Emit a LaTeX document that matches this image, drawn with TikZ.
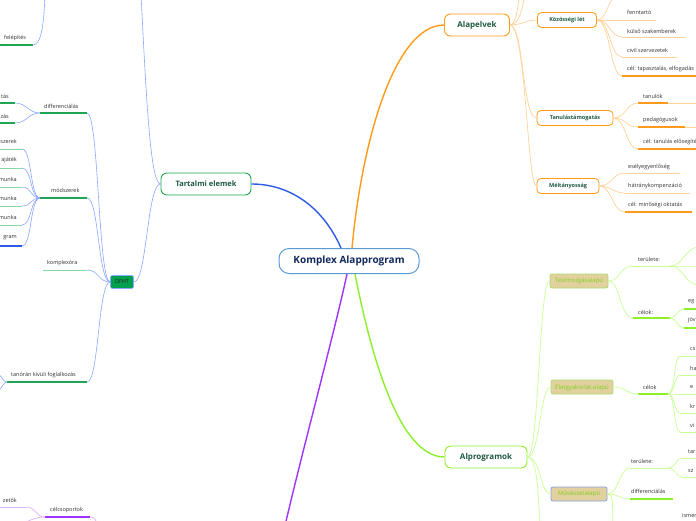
\documentclass[tikz,border=0pt]{standalone}
\usepackage{fontspec}
\setmainfont{Open Sans}
\definecolor{cblue}{HTML}{2F5BEA}
\definecolor{lblue}{HTML}{8AA8FF}
\definecolor{cgreen}{HTML}{1FA653}
\definecolor{lgreen}{HTML}{85D9A3}
\definecolor{corange}{HTML}{FF9A1A}
\definecolor{lorange}{HTML}{FFD39A}
\definecolor{clime}{HTML}{8CF02A}
\definecolor{llime}{HTML}{C8FF96}
\definecolor{cpurple}{HTML}{A033FF}
\definecolor{lpurple}{HTML}{DDB3FF}
\definecolor{navy}{HTML}{102A5C}
\definecolor{dgreen}{HTML}{1E5A40}
\definecolor{tanfill}{HTML}{E2D09E}
\definecolor{tantext}{HTML}{7CD41E}
\definecolor{tanline}{HTML}{A8E070}
\definecolor{txt}{HTML}{333333}
\definecolor{rootline}{HTML}{5B9BD5}
\definecolor{dfhtfill}{HTML}{00A04E}
\tikzset{
  lbl/.style={font=\fontsize{5.5}{6.5}\selectfont, text=txt, inner sep=0pt},
  bigbox/.style={draw, line width=0.9pt, rounded corners=6pt, fill=white, text=dgreen,
     font=\fontsize{7.5}{9}\selectfont\bfseries, inner sep=0pt},
  subbox/.style={draw=corange, line width=0.8pt, rounded corners=4pt, fill=white, text=dgreen,
     font=\fontsize{5.5}{6.5}\selectfont\bfseries, inner sep=0pt},
  tanbox/.style={draw=tanline, line width=0.8pt, rounded corners=2pt, fill=tanfill, text=tantext,
     font=\fontsize{6}{7}\selectfont, inner sep=0pt},
  bconn/.style={lblue, line width=0.6pt},
  oconn/.style={lorange, line width=0.7pt},
  gconn/.style={llime, line width=0.7pt},
  pconn/.style={lpurple, line width=0.7pt},
  gul/.style={cgreen, line width=1.3pt},
  lgul/.style={lgreen, line width=0.8pt},
  oul/.style={corange, line width=1.3pt},
  loul/.style={lorange, line width=0.8pt},
  mul/.style={clime, line width=1.3pt},
  lmul/.style={llime, line width=0.8pt},
}
\begin{document}
\begin{tikzpicture}[x=1pt,y=-1pt]
\useasboundingbox[fill=white] (0,0) rectangle (696,520);

% ---------- main nodes ----------
\node[draw=rootline, line width=1pt, rounded corners=10pt, fill=white, text=navy,
  font=\fontsize{10}{12}\selectfont\bfseries, minimum width=140pt, minimum height=25pt, inner sep=0pt]
  (root) at (349,261) {Komplex Alapprogram};
\node[bigbox, draw=cgreen, minimum width=90pt, minimum height=22pt] (tart) at (206,184) {Tartalmi elemek};
\node[bigbox, draw=corange, minimum width=65pt, minimum height=22pt, font=\fontsize{8}{9}\selectfont\bfseries] (alap) at (477,25) {Alapelvek};
\node[bigbox, draw=clime, minimum width=82pt, minimum height=22pt, font=\fontsize{8}{9}\selectfont\bfseries] (alpr) at (486,457) {Alprogramok};

% ---------- main connectors ----------
\draw[cblue, line width=1.4pt] ([xshift=-8pt]root.north) .. controls (322,205) and (288,184) .. (tart.east);
\draw[corange, line width=1.4pt] ([xshift=3pt]root.north) .. controls (362,140) and (395,25) .. (alap.west);
\draw[clime, line width=1.4pt] ([xshift=6pt]root.south) .. controls (372,360) and (400,457) .. (alpr.west);
\coordinate (poff) at (284,530);
\draw[cpurple, line width=1.4pt] ([xshift=-2pt]root.south) .. controls (335,330) and (300,460) .. (poff);

% ---------- Tartalmi elemek ----------
\node[draw=lblue, line width=0.6pt, rounded corners=2pt, fill=dfhtfill, text=black!85,
  font=\fontsize{5.5}{6.5}\selectfont, minimum width=23pt, minimum height=13pt, inner sep=0pt] (dfht) at (122,282) {DFHT};
\coordinate (toff) at (141,-5);
\draw[bconn] (tart.west) .. controls (150,184) and (146,90) .. (toff);
\draw[bconn] (tart.west) .. controls (147,184) and (147,282) .. (dfht.east);

% felépítés
\coordinate (fe) at (33,45);
\coordinate (foff) at (45,-5);
\node[lbl, anchor=west] (felep) at (4,38) {felépítés};
\draw[gul] (0,45) -- (fe);
\draw[bconn] (fe) .. controls (42,45) and (44,20) .. (foff);

% DFHT children
\coordinate (d1) at (87,113); \coordinate (d1l) at (40,113);
\coordinate (d2) at (87,198); \coordinate (d2l) at (40,198);
\coordinate (d3) at (87,270); \coordinate (d3l) at (43,270);
\coordinate (d4) at (87,382); \coordinate (d4l) at (7,382);
\foreach \c in {d1,d2,d3,d4}{
  \draw[bconn] (dfht.west) .. controls (98,282) and (99,0|-\c) .. (\c);
}
\node[lbl, anchor=west] (diff) at (44,106) {differenciálás};
\draw[gul] (d1l) -- (d1);
\node[lbl, anchor=west] (modsz) at (51,190) {módszerek};
\draw[gul] (d2l) -- (d2);
\node[lbl, anchor=west] (kompl) at (47,263) {komplexóra};
\draw[lgul] (d3l) -- (d3);
\node[lbl, anchor=west] (tanor) at (11,375) {tanórán kívüli foglalkozás};
\draw[gul] (d4l) -- (d4);
\coordinate (t1) at (-2,374); \coordinate (t2) at (-2,391);
\draw[bconn] (d4l) .. controls (3,382) and (2,376) .. (t1);
\draw[bconn] (d4l) .. controls (3,382) and (2,389) .. (t2);

% differenciálás children
\node[lbl, anchor=east] (dt1) at (9,96) {tás};
\node[lbl, anchor=east] (dt2) at (9,116) {zás};
\coordinate (e1) at (15,103); \coordinate (e2) at (15,123);
\draw[gul] (0,103) -- (e1);
\draw[gul] (0,123) -- (e2);
\draw[bconn] (d1l) .. controls (28,113) and (27,103) .. (e1);
\draw[bconn] (d1l) .. controls (28,113) and (27,123) .. (e2);

% módszerek children
\node[lbl, anchor=east] (m1) at (17,141) {szerek};
\node[lbl, anchor=east] (m2) at (17,160) {ajáték};
\node[lbl, anchor=east] (m3) at (17,179) {munka};
\node[lbl, anchor=east] (m4) at (17,198) {munka};
\node[lbl, anchor=east] (m5) at (17,217) {munka};
\node[lbl, anchor=east] (m6) at (17,238) {gram};
\foreach \y [count=\i] in {149,168,187,206,225}{
  \coordinate (mu\i) at (22,\y);
  \draw[lgul] (0,\y) -- (mu\i);
  \draw[bconn] (d2l) .. controls (30,198) and (32,\y) .. (mu\i);
}
\coordinate (mu6) at (22,246);
\draw[cblue, line width=1.3pt] (0,246) -- (mu6);
\draw[bconn] (d2l) .. controls (30,198) and (32,246) .. (mu6);

% ---------- Alapelvek ----------
\node[subbox, minimum width=59pt, minimum height=15pt] (kozos) at (567,20) {Közösségi lét};
\node[subbox, minimum width=76pt, minimum height=15pt] (tanul) at (575,118) {Tanulástámogatás};
\node[subbox, minimum width=62pt, minimum height=15pt] (melt) at (568,186) {Méltányosság};
\coordinate (a1) at (519,-3); \coordinate (a2) at (524,-3);
\draw[oconn] (alap.east) .. controls (515,25) and (518,10) .. (a1);
\draw[oconn] (alap.east) .. controls (518,25) and (523,10) .. (a2);
\draw[oconn] (alap.east) .. controls (522,25) and (525,20) .. (kozos.west);
\draw[oconn] (alap.east) .. controls (524,25) and (522,118) .. (tanul.west);
\draw[oconn] (alap.east) .. controls (526,25) and (527,186) .. (melt.west);

% Közösségi lét children
\coordinate (k0) at (614,-3);
\draw[oconn] (kozos.east) .. controls (606,20) and (606,6) .. (k0);
\node[lbl, anchor=west] (k1t) at (627,12) {fenntartó};
\node[lbl, anchor=west] (k2t) at (627,31) {külső szakemberek};
\node[lbl, anchor=west] (k3t) at (627,50) {civil szervezetek};
\node[lbl, anchor=west] (k4t) at (627,69) {cél: tapasztalás, elfogadás};
\coordinate (k1) at (622,20); \coordinate (k2) at (622,37);
\coordinate (k3) at (622,57); \coordinate (k4) at (622,76);
\draw[loul] (k1) -- (656,20);
\draw[loul] (k2) -- (685,37);
\draw[loul] (k3) -- (677,57);
\draw[oul] (k4) -- (700,76);
\foreach \c in {k1,k2,k3,k4}{
  \draw[oconn] (kozos.east) .. controls (610,20) and (610,0|-\c) .. (\c);
}

% Tanulástámogatás children
\node[lbl, anchor=west] (u1t) at (643,96) {tanulók};
\node[lbl, anchor=west] (u2t) at (643,120) {pedagógusok};
\node[lbl, anchor=west] (u3t) at (643,142) {cél: tanulás elősegítése};
\coordinate (u1) at (638,103); \coordinate (u2) at (638,127); \coordinate (u3) at (638,149);
\draw[oul] (u1) -- (668,103); \draw[loul] (668,103) -- (700,103);
\draw[oul] (u2) -- (685,127); \draw[loul] (685,127) -- (700,127);
\draw[oul] (u3) -- (700,149);
\foreach \c in {u1,u2,u3}{
  \draw[oconn] (tanul.east) .. controls (626,118) and (626,0|-\c) .. (\c);
}

% Méltányosság children
\node[lbl, anchor=west] (l1t) at (628,167) {esélyegyenlőség};
\node[lbl, anchor=west] (l2t) at (628,186) {hátránykompenzáció};
\node[lbl, anchor=west] (l3t) at (628,205) {cél: minőségi oktatás};
\coordinate (l1) at (625,173); \coordinate (l2) at (625,193); \coordinate (l3) at (625,212);
\draw[loul] (l1) -- (680,173);
\draw[loul] (l2) -- (690,193);
\draw[oul] (l3) -- (692,212);
\foreach \c in {l1,l2,l3}{
  \draw[oconn] (melt.east) .. controls (612,186) and (612,0|-\c) .. (\c);
}

% ---------- Alprogramok ----------
\node[tanbox, minimum width=58pt, minimum height=14pt] (testm) at (579,281) {Testmozgásalapú};
\node[tanbox, minimum width=62pt, minimum height=14pt] (eletg) at (582,387) {Életgyakorlat-alapú};
\node[tanbox, draw=lblue!80!gray, minimum width=56pt, minimum height=14pt] (muv) at (579,494) {Művészetalapú};
\coordinate (aoff) at (540,525);
\draw[gconn] (alpr.east) .. controls (539,457) and (539,281) .. (testm.west);
\draw[gconn] (alpr.east) .. controls (540,457) and (540,387) .. (eletg.west);
\draw[gconn] (alpr.east) .. controls (541,457) and (540,494) .. (muv.west);
\draw[gconn] (alpr.east) .. controls (537,457) and (538,490) .. (aoff);

% Testmozgásalapú children
\node[lbl, anchor=west] (tt1) at (638,259) {területe:};
\node[lbl, anchor=west] (tt2) at (638,312) {célok:};
\coordinate (tc1) at (632,266); \coordinate (tc1r) at (670,266);
\coordinate (tc2) at (633,318); \coordinate (tc2r) at (670,318);
\draw[lmul] (tc1) -- (tc1r);
\draw[mul] (tc2) -- (tc2r);
\draw[gconn] (testm.east) .. controls (620,281) and (620,266) .. (tc1);
\draw[gconn] (testm.east) .. controls (620,281) and (620,318) .. (tc2);
\foreach \y [count=\i] in {247,266,285}{
  \coordinate (tz\i) at (700,\y);
  \draw[gconn] (tc1r) .. controls (684,266) and (684,\y) .. (tz\i);
}
\node[lbl, anchor=west] (tg1) at (688,302) {eg};
\node[lbl, anchor=west] (tg2) at (688,320) {jöv};
\coordinate (tg1u) at (684,309); \coordinate (tg2u) at (684,328);
\draw[mul] (tg1u) -- (700,309);
\draw[mul] (tg2u) -- (700,328);
\draw[gconn] (tc2r) .. controls (677,318) and (677,309) .. (tg1u);
\draw[gconn] (tc2r) .. controls (677,318) and (677,328) .. (tg2u);

% Életgyakorlat-alapú children
\node[lbl, anchor=west] (ec) at (643,387) {célok};
\coordinate (ecl) at (638,394); \coordinate (ecr) at (668,394);
\draw[mul] (ecl) -- (ecr);
\draw[gconn] (eletg.east) .. controls (626,387) and (626,394) .. (ecl);
\foreach \y/\t [count=\i] in {356/cs,375/ha,394/e,413/kr,432/vi}{
  \coordinate (ev\i) at (680,\y);
  \node[lbl, anchor=west] (evt\i) at (690,\y-7) {\t};
  \draw[lmul] (ev\i) -- (700,\y);
  \draw[gconn] (ecr) .. controls (675,394) and (674,\y) .. (ev\i);
}

% Művészetalapú children
\node[lbl, anchor=west] (mt1) at (631,461) {területe:};
\node[lbl, anchor=west] (mt2) at (631,491) {differenciálás};
\node[lbl, anchor=west] (mt3) at (682,515) {ismer};
\coordinate (mc1) at (630,468); \coordinate (mc1r) at (668,468);
\coordinate (mc2) at (630,499);
\coordinate (moff) at (613,525);
\draw[lmul] (mc1) -- (mc1r);
\draw[mul] (mc2) -- (673,499);
\draw[gconn] (muv.east) .. controls (619,494) and (619,468) .. (mc1);
\draw[gconn] (muv.east) .. controls (619,494) and (619,499) .. (mc2);
\draw[gconn] (muv.east) .. controls (614,494) and (612,505) .. (moff);
\node[lbl, anchor=west] (ms1) at (688,452) {tar};
\node[lbl, anchor=west] (ms2) at (688,471) {sz};
\coordinate (ms1u) at (682,458); \coordinate (ms2u) at (682,477);
\draw[lmul] (ms1u) -- (700,458);
\draw[lmul] (ms2u) -- (700,477);
\draw[gconn] (mc1r) .. controls (676,468) and (676,458) .. (ms1u);
\draw[gconn] (mc1r) .. controls (676,468) and (676,477) .. (ms2u);

% ---------- purple branch (bottom left) ----------
\node[lbl, anchor=west] (celcs) at (50,510) {célcsoportok};
\node[lbl, anchor=east] (vez) at (17,500) {zetők};
\coordinate (cl) at (45,517); \coordinate (cr) at (90,517);
\coordinate (vz) at (27,507); \coordinate (coff) at (97,525);
\coordinate (c2off) at (20,525);
\draw[cpurple, line width=1.3pt] (cl) -- (cr);
\draw[lpurple, line width=0.8pt] (0,507) -- (vz);
\draw[pconn] (cl) .. controls (36,517) and (35,507) .. (vz);
\draw[pconn] (cl) .. controls (36,517) and (30,520) .. (c2off);
\draw[pconn] (cr) .. controls (95,517) and (96,520) .. (coff);
\end{tikzpicture}
\end{document}
